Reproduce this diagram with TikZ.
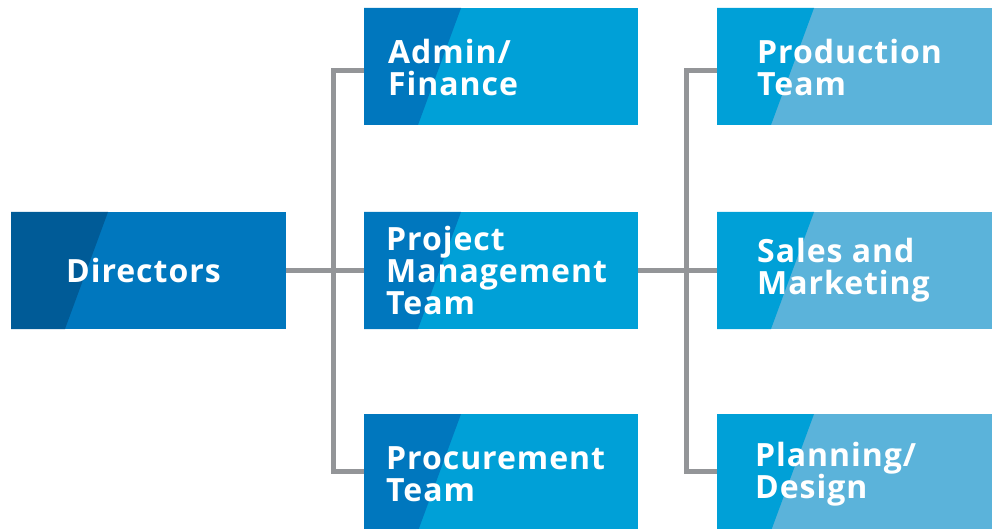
\documentclass[tikz,border=0pt]{standalone}
\usepackage{fontspec}
\setmainfont{Open Sans}[LetterSpace=3]
\definecolor{cA}{HTML}{005B97}
\definecolor{cB}{HTML}{0077BE}
\definecolor{cC}{HTML}{00A0D7}
\definecolor{cD}{HTML}{5BB3DA}
\definecolor{conncol}{HTML}{939598}
\begin{document}
\begin{tikzpicture}[x=1pt,y=-1pt,
  orgbox/.style 2 args={rectangle, inner sep=0pt, minimum height=117pt, fill=#2,
    path picture={\fill[#1] (path picture bounding box.north west) -- ([xshift=97pt]path picture bounding box.north west)
      -- ([xshift=54pt]path picture bounding box.south west) -- (path picture bounding box.south west) -- cycle;}},
  lbl/.style={anchor=west, inner sep=0pt, align=left, text=white, font=\bfseries\fontsize{32}{32}\selectfont},
  conn/.style={draw=conncol, line width=5pt}]
\useasboundingbox (0,0) rectangle (998,529);
% boxes
\node[orgbox={cA}{cB}, minimum width=275pt] (dir) at (148.5,270.5) {};
\node[orgbox={cB}{cC}, minimum width=274pt] (adm) at (501,66.5) {};
\node[orgbox={cB}{cC}, minimum width=274pt] (pm) at (501,270.5) {};
\node[orgbox={cB}{cC}, minimum width=274pt] (proc) at (501,472.5) {};
\node[orgbox={cC}{cD}, minimum width=275pt] (prod) at (854.5,66.5) {};
\node[orgbox={cC}{cD}, minimum width=275pt] (sales) at (854.5,270.5) {};
\node[orgbox={cC}{cD}, minimum width=275pt] (plan) at (854.5,472.5) {};
% labels
\node[lbl] (tdir) at (66,270.5) {Directors};
\node[lbl] (tadm) at (388,68) {Admin/\\Finance};
\node[lbl] (tpm) at (386,270.5) {Project\\Management\\Team};
\node[lbl] (tproc) at (386,474) {Procurement\\Team};
\node[lbl] (tprod) at (757,68) {Production\\Team};
\node[lbl] (tsales) at (757,270) {Sales and\\Marketing};
\node[lbl] (tplan) at (755,474) {Planning/\\Design};
% connectors
\draw[conn] (dir.east) -- (pm.west);
\draw[conn] ([yshift=-4pt]adm.west) -- ++(-30,0) |- ([yshift=1.5pt]proc.west);
\draw[conn] (pm.east) -- (sales.west);
\draw[conn] ([yshift=-4pt]prod.west) -- ++(-30,0) |- ([yshift=1.5pt]plan.west);
\end{tikzpicture}
\end{document}
